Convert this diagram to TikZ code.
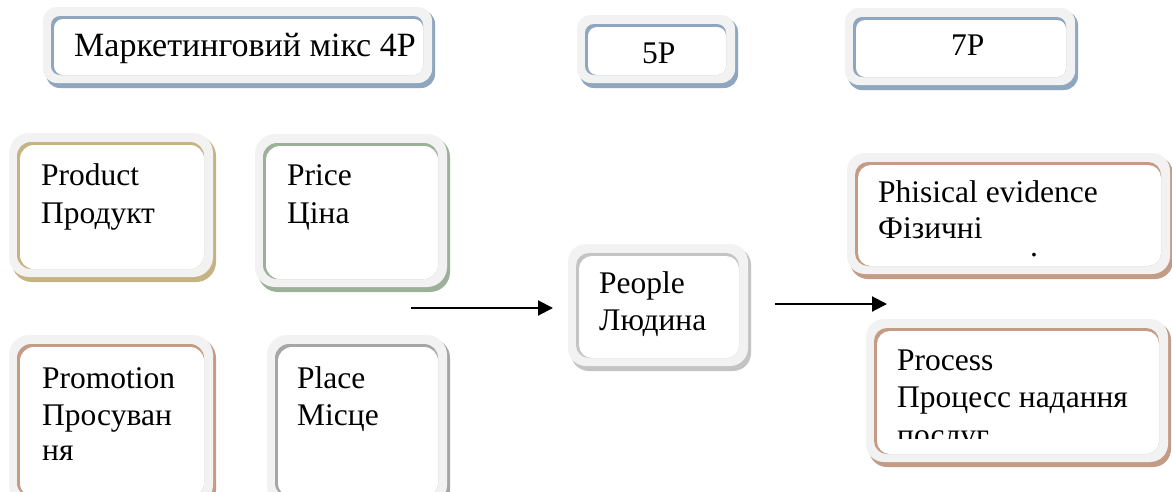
\documentclass[tikz,border=0pt]{standalone}
\usepackage{fontspec}
\setmainfont{Liberation Serif}
\usetikzlibrary{arrows.meta}
\definecolor{bandgrey}{HTML}{F2F2F2}
\definecolor{cblue}{HTML}{8EA6BE}
\definecolor{ctan}{HTML}{C6B383}
\definecolor{cgreen}{HTML}{9DB09A}
\definecolor{cbrown}{HTML}{C49C86}
\definecolor{cgreyd}{HTML}{A6A6A6}
\definecolor{cgreyl}{HTML}{C4C4C4}
% name, x1, y1, x2, y2, colour, outer radius, inner radius
\newcommand\mybox[8]{%
  \fill[#6, rounded corners=#7] (#2+3,#3+3) rectangle (#4+3,#5+5);
  \fill[bandgrey, rounded corners=#7] (#2,#3) rectangle (#4,#5);
  \fill[#6, rounded corners=#8] (#2+8,#3+9) rectangle (#4-9,#5-8);
  \fill[white, rounded corners=#8] (#2+11,#3+12) rectangle (#4-9,#5-8);
  \coordinate (#1-nw) at (#2,#3);
  \coordinate (#1-se) at (#4,#5);
}
\begin{document}
\begin{tikzpicture}[x=1pt,y=-1pt,
  txt/.style={anchor=base west, inner sep=0pt, font=\fontsize{31.5}{38}\selectfont},
  title/.style={txt, font=\fontsize{34}{40}\selectfont},
  arr/.style={line width=2pt, -{Triangle[length=15pt,width=15pt]}}]
\useasboundingbox (0,0) rectangle (1172,491);
\clip (0,0) rectangle (1172,491);
\fill[white] (0,0) rectangle (1172,491);

\mybox{mix}{43}{7}{432}{83}{cblue}{14pt}{9pt}
\mybox{five}{577}{15}{735}{83}{cblue}{14pt}{9pt}
\mybox{seven}{845}{8}{1075}{85}{cblue}{14pt}{9pt}
\mybox{product}{9}{133}{213}{277}{ctan}{20pt}{14pt}
\mybox{price}{255}{134}{447}{287}{cgreen}{20pt}{14pt}
\mybox{promo}{9}{335}{213}{505}{cbrown}{20pt}{14pt}
\mybox{place}{267}{335}{447}{505}{cgreyd}{20pt}{14pt}
\mybox{people}{568}{244}{748}{366}{cgreyl}{18pt}{13pt}
\mybox{phys}{847}{153}{1170}{274}{cbrown}{18pt}{13pt}
\mybox{proc}{866}{319}{1168}{462}{cbrown}{18pt}{13pt}

\node[title] (tmix) at (74,56) {Маркетинговий мікс 4P};
\node[txt] (tfive) at (642,63) {5P};
\node[txt] (tseven) at (951,55) {7P};
\node[txt] (tprod1) at (41,185) {Product};
\node[txt] (tprod2) at (41,223) {Продукт};
\node[txt] (tprice1) at (287,185) {Price};
\node[txt] (tprice2) at (287,223) {Ціна};
\node[txt] (tpromo1) at (42,388) {Promotion};
\node[txt] (tpromo2) at (42,425) {Просуван};
\node[txt] (tpromo3) at (42,460) {ня};
\node[txt] (tplace1) at (297,388) {Place};
\node[txt] (tplace2) at (297,425) {Місце};
\node[txt] (tpeople1) at (599,293) {People};
\node[txt] (tpeople2) at (599,330) {Людина};
\node[txt] (tphys1) at (878,202) {Phisical evidence};
\node[txt] (tphys2) at (878,238) {Фізичні};
\node[txt] (tdot) at (1030,256) {.};
\node[txt] (tproc1) at (897,370) {Process};
\node[txt] (tproc2) at (897,407) {Процесс надання};
\begin{scope}
  \clip (880,420) rectangle (1150,438);
  \node[txt] (tproc3) at (897,445) {послуг};
\end{scope}

\coordinate (a1s) at (411,308);
\coordinate (a1e) at (553,308);
\coordinate (a2s) at (775,304);
\coordinate (a2e) at (887,304);
\draw[arr] (a1s) -- (a1e);
\draw[arr] (a2s) -- (a2e);
\end{tikzpicture}
\end{document}
